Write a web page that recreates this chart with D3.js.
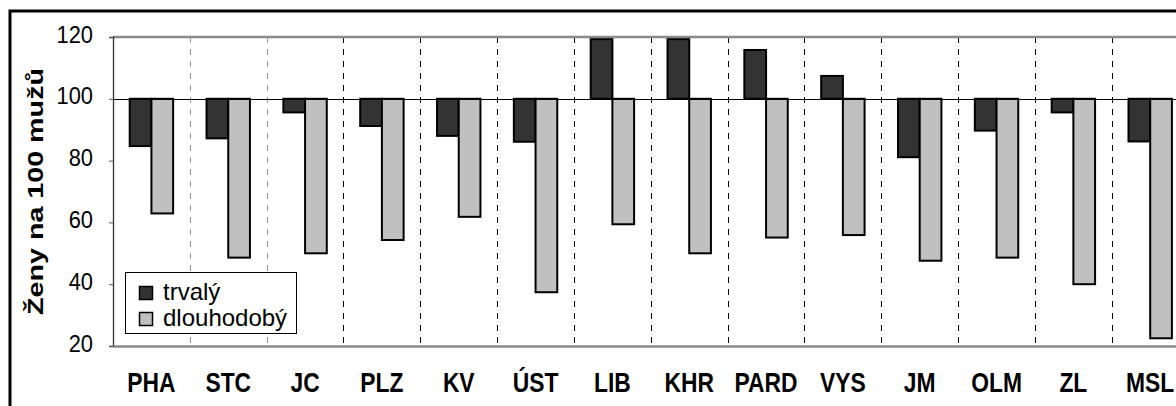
<!DOCTYPE html>
<html>
<head>
<meta charset="utf-8">
<script src="https://cdn.jsdelivr.net/npm/d3@7"></script>
<style>
  html, body { margin: 0; padding: 0; background: #fff; overflow: hidden; }
  svg { display: block; font-family: "Liberation Sans", Arial, sans-serif; }
</style>
</head>
<body>
<svg id="chart" width="1176" height="406"></svg>
<script>
const categories = ["PHA","STC","JC","PLZ","KV","ÚST","LIB","KHR","PARD","VYS","JM","OLM","ZL","MSL"];
const trvaly     = [84.7, 87.2, 95.6, 91.2, 88.0, 86.1, 119.3, 119.3, 115.8, 107.4, 81.1, 89.7, 95.6, 86.2];
const dlouhodoby = [62.9, 48.6, 50.0, 54.3, 61.8, 37.4, 59.4, 50.0, 55.1, 55.9, 47.6, 48.6, 40.0, 22.5];
const seriesNames = ["trvalý", "dlouhodobý"];
const yTicks = [20, 40, 60, 80, 100, 120];
const baselineValue = 100;
const yTitle = "Ženy na 100 mužů";

(function () {
const colors = {"trvalý": "#333333", "dlouhodobý": "#c0c0c0"};
const seriesValues = {"trvalý": trvaly, "dlouhodobý": dlouhodoby};

const svg = d3.select("#chart");
const pLeft = 113, pTop = 37, pBottom = 346, step = 76.83;
const pRight = pLeft + step * categories.length;

// outer frame
svg.append("rect").attr("x", 10).attr("y", 11).attr("width", 1300).attr("height", 600)
  .attr("fill", "#fff").attr("stroke", "#000").attr("stroke-width", 3);

const x0 = d3.scaleBand().domain(categories).range([pLeft, pRight]).padding(0);
const x1 = d3.scaleBand().domain(seriesNames).range([0, x0.bandwidth()]).paddingInner(0).paddingOuter(0.77);
const y = d3.scaleLinear().domain([20, 120]).range([pBottom, pTop]);

// dashed separators
const seps = categories.slice(1);
svg.append("g").selectAll("line").data(seps).join("line")
  .attr("x1", d => Math.round(x0(d)) + 0.5).attr("x2", d => Math.round(x0(d)) + 0.5)
  .attr("y1", pTop).attr("y2", pBottom)
  .attr("stroke", (d, i) => i < 2 ? "#999" : "#000")
  .attr("stroke-width", 1)
  .attr("stroke-dasharray", "6,6");

// top border (120 gridline)
svg.append("line").attr("x1", pLeft).attr("x2", pRight).attr("y1", y(120)).attr("y2", y(120))
  .attr("stroke", "#8a8a8a").attr("stroke-width", 2.5);

// bars
const rows = categories.map((c, i) => ({cat: c, vals: seriesNames.map(s => ({s, v: seriesValues[s][i]}))}));
svg.append("g").selectAll("g").data(rows).join("g")
  .attr("transform", d => `translate(${x0(d.cat)},0)`)
  .selectAll("rect").data(d => d.vals).join("rect")
  .attr("x", d => x1(d.s))
  .attr("width", x1.bandwidth())
  .attr("y", d => Math.min(y(d.v), y(baselineValue)))
  .attr("height", d => Math.abs(y(d.v) - y(baselineValue)))
  .attr("fill", d => colors[d.s])
  .attr("stroke", "#000").attr("stroke-width", 2);

// baseline at 100
svg.append("line").attr("x1", pLeft).attr("x2", pRight)
  .attr("y1", Math.round(y(baselineValue)) + 0.5).attr("y2", Math.round(y(baselineValue)) + 0.5)
  .attr("stroke", "#000").attr("stroke-width", 1);

// y axis
const yAxis = svg.append("g").attr("transform", `translate(${pLeft},0)`)
  .call(d3.axisLeft(y).tickValues(yTicks).tickSize(4).tickPadding(16).tickFormat(d3.format("d")));
yAxis.select(".domain").attr("stroke", "#333").attr("stroke-width", 1.3);
yAxis.selectAll(".tick line").attr("stroke", "#555");
yAxis.selectAll(".tick text")
  .attr("x", 0).attr("dy", "0.32em")
  .attr("transform", "translate(-20,-2.5) scale(0.91,1)")
  .attr("font-size", 24).attr("fill", "#000")
  .attr("font-family", "'Liberation Sans', Arial, sans-serif");

// x axis
const xAxis = svg.append("g").attr("transform", `translate(0,${pBottom})`)
  .call(d3.axisBottom(x0).tickSize(0).tickPadding(26));
xAxis.select(".domain").attr("stroke", "#8a8a8a").attr("stroke-width", 2.5);
xAxis.selectAll(".tick text")
  .attr("font-size", 27.5).attr("font-weight", "bold").attr("fill", "#000")
  .attr("font-family", "'Liberation Sans', Arial, sans-serif")
  .attr("transform", "scale(0.83,1)");

// y title
svg.append("text")
  .attr("transform", `translate(43,${(pTop + pBottom) / 2}) rotate(-90)`)
  .attr("text-anchor", "middle")
  .attr("font-size", 22).attr("font-weight", "bold")
  .attr("textLength", 247).attr("lengthAdjust", "spacingAndGlyphs")
  .text(yTitle);

// legend
const lg = svg.append("g");
lg.append("rect").attr("x", 125.5).attr("y", 272.5).attr("width", 171).attr("height", 61)
  .attr("fill", "#fff").attr("stroke", "#000").attr("stroke-width", 1);
const items = lg.selectAll("g.item").data(seriesNames).join("g").attr("class", "item")
  .attr("transform", (d, i) => `translate(0,${i * 26})`);
items.append("rect").attr("x", 139.5).attr("y", 286.5).attr("width", 13).attr("height", 13)
  .attr("fill", d => colors[d]).attr("stroke", "#000").attr("stroke-width", 1.5);
items.append("text").attr("x", 163).attr("y", 300)
  .attr("font-size", 24).attr("fill", "#000").text(d => d);
})();
</script>
</body>
</html>
